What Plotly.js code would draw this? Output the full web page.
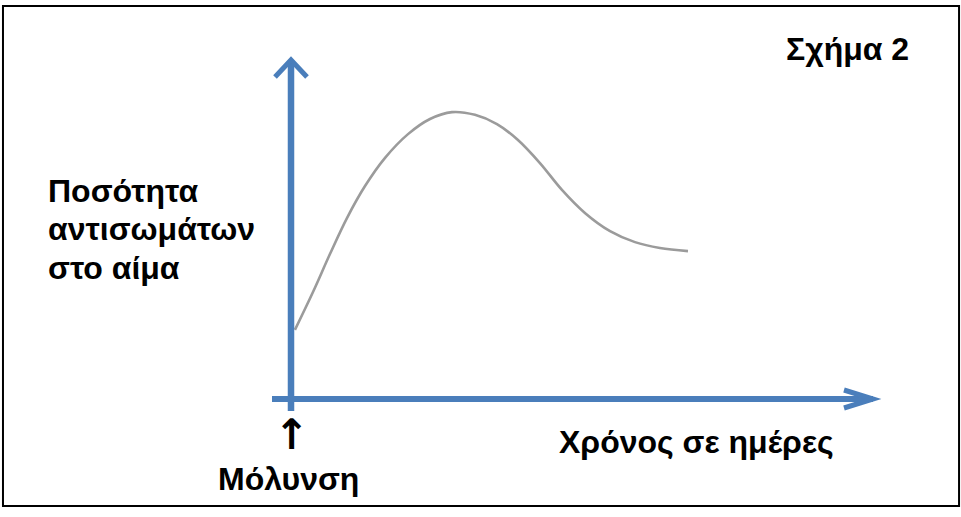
<!DOCTYPE html>
<html>
<head>
<meta charset="utf-8">
<script src="https://cdn.plot.ly/plotly-3.0.1.min.js"></script>
<style>
  html, body { margin: 0; padding: 0; background: #ffffff; }
  #chart { width: 961px; height: 517px; }
</style>
</head>
<body>
<div id="chart"></div>
<script>
// Antibody level in the blood after infection (arbitrary units), by day
const days = [0.20, 1.12, 1.99, 2.85, 3.77, 4.79, 5.96, 7.08, 8.20, 9.37, 10.49, 11.56,
              12.68, 13.80, 14.97, 16.25, 17.52, 18.79, 20.22];
const antibodies = [20.1, 31.1, 42.2, 52.6, 61.9, 70.1, 77.0, 81.4, 83.4, 82.6, 79.9, 75.3,
                    68.6, 60.8, 54.1, 48.8, 45.6, 43.9, 43.0];

const figureLabel = 'Σχήμα 2';
const yLabelLines = ['Ποσότητα', 'αντισωμάτων', 'στο αίμα'];
const xLabel = 'Χρόνος σε ημέρες';
const infectionMarker = '↑';
const infectionLabel = 'Μόλυνση';

const xRange = [0, 30];
const yRange = [0, 100];

const axisBlue = '#4a7ebb';
const textFont = { family: 'Liberation Sans, Arial, sans-serif', size: 32, color: '#000000', weight: 700 };
const arrowFont = { family: 'DejaVu Sans, sans-serif', size: 42, color: '#000000', weight: 700 };

const trace = {
  x: days,
  y: antibodies,
  type: 'scatter',
  mode: 'lines',
  line: { color: '#9b9b9b', width: 2.6, shape: 'spline', smoothing: 1 },
  hoverinfo: 'skip'
};

const shapes = [
  // outer frame
  { type: 'rect', xref: 'paper', yref: 'paper', x0: -0.4890, x1: 1.1342, y0: -0.3110, y1: 1.1424,
    line: { color: '#000000', width: 2 }, layer: 'below' },
  // vertical axis shaft, running a little below the origin
  { type: 'line', xref: 'paper', yref: 'paper', ysizemode: 'pixel', yanchor: 0,
    x0: 0, x1: 0, y0: -12, y1: 338, line: { color: axisBlue, width: 6.5 } },
  // horizontal axis shaft, running a little left of the origin
  { type: 'line', xref: 'paper', yref: 'paper', xsizemode: 'pixel', xanchor: 0,
    x0: -19, x1: 582, y0: 0, y1: 0, line: { color: axisBlue, width: 6 } },
  // open arrowhead at the top of the vertical axis
  { type: 'path', xref: 'paper', yref: 'paper', xsizemode: 'pixel', ysizemode: 'pixel',
    xanchor: 0, yanchor: 1, path: 'M -16,-22 L 0,-5 L 16,-22',
    line: { color: axisBlue, width: 5 } },
  // open arrowhead at the end of the horizontal axis
  { type: 'path', xref: 'paper', yref: 'paper', xsizemode: 'pixel', ysizemode: 'pixel',
    xanchor: 1, yanchor: 0, path: 'M -36,9 L -7,0 L -36,-9',
    line: { color: axisBlue, width: 5 } }
];

const yLabelCenters = [0.6058, 0.4942, 0.3808];

const annotations = [
  { text: figureLabel, xref: 'paper', yref: 'paper', x: 0.9448, y: 1.0174,
    xanchor: 'center', yanchor: 'middle', showarrow: false, font: textFont },
  { text: xLabel, xref: 'paper', yref: 'paper', x: 0.6885, y: -0.1250,
    xanchor: 'center', yanchor: 'middle', showarrow: false, font: textFont },
  { text: infectionMarker, xref: 'paper', yref: 'paper', x: 0, y: -0.1030,
    xanchor: 'center', yanchor: 'middle', showarrow: false, font: arrowFont },
  { text: infectionLabel, xref: 'paper', yref: 'paper', x: -0.0034, y: -0.2326,
    xanchor: 'center', yanchor: 'middle', showarrow: false, font: textFont }
].concat(yLabelLines.map((line, i) => ({
  text: line, xref: 'paper', yref: 'paper', x: -0.4160, y: yLabelCenters[i],
  xanchor: 'left', yanchor: 'middle', align: 'left', showarrow: false, font: textFont
})));

const hiddenAxis = {
  showgrid: false, zeroline: false, showline: false, showticklabels: false, ticks: '', fixedrange: true
};

const layout = {
  width: 961,
  height: 517,
  margin: { l: 291, r: 81, t: 55, b: 118 },
  paper_bgcolor: '#ffffff',
  plot_bgcolor: '#ffffff',
  showlegend: false,
  xaxis: Object.assign({ range: xRange }, hiddenAxis),
  yaxis: Object.assign({ range: yRange }, hiddenAxis),
  shapes: shapes,
  annotations: annotations
};

Plotly.newPlot('chart', [trace], layout, { staticPlot: true, displayModeBar: false });
</script>
</body>
</html>
